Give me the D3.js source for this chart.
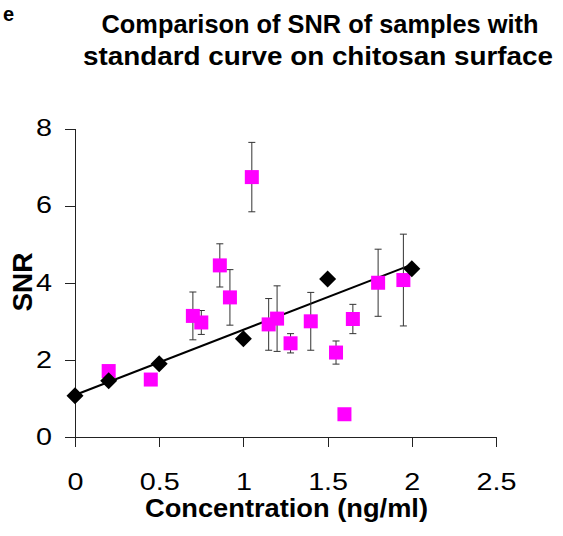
<!DOCTYPE html>
<html>
<head>
<meta charset="utf-8">
<script src="https://cdn.jsdelivr.net/npm/d3@7"></script>
<style>
  body { margin: 0; background: #fff; }
  svg { display: block; font-family: "Liberation Sans", Arial, sans-serif; }
  .axis path, .axis line { stroke: #222; shape-rendering: crispEdges; }
  .axis text { fill: #000; font-size: 23px; }
</style>
</head>
<body>
<svg width="563" height="536"></svg>
<script>
// standard curve (black diamonds)
var stdConc = [0, 0.2, 0.5, 1.0, 1.5, 2.0];
var stdSNR = [1.07, 1.46, 1.90, 2.55, 4.10, 4.36];

// trendline ends
var trendConc = [0, 2];
var trendSNR = [1.09, 4.47];

// samples (magenta squares) with error bars
var sampleConc = [0.2, 0.45, 0.7, 0.75, 0.86, 0.92, 1.05, 1.15, 1.2, 1.28, 1.4, 1.55, 1.6, 1.65, 1.8, 1.95];
var sampleSNR = [1.71, 1.49, 3.14, 2.97, 4.45, 3.62, 6.74, 2.92, 3.07, 2.43, 3.00, 2.19, 0.59, 3.06, 4.00, 4.07];
var sampleErr = [0, 0, 0.62, 0.31, 0.56, 0.72, 0.90, 0.67, 0.85, 0.25, 0.75, 0.30, 0, 0.38, 0.87, 1.19];

var xTicks = [0, 0.5, 1, 1.5, 2, 2.5];
var yTicks = [0, 2, 4, 6, 8];

var svg = d3.select("svg");
var margin = {"top":128.5,"right":67,"bottom":99,"left":75};
var width = +svg.attr("width") - margin.left - margin.right;
var height = +svg.attr("height") - margin.top - margin.bottom;
var g = svg.append("g").attr("transform","translate("+margin.left+","+margin.top+")");

var x = d3.scaleLinear().domain([0,2.5]).range([0,width]);
var y = d3.scaleLinear().domain([0,8]).range([height,0]);

var std = stdConc.map(function(c,i){return {x:c, y:stdSNR[i]};});
var trend = trendConc.map(function(c,i){return {x:c, y:trendSNR[i]};});
var samples = sampleConc.map(function(c,i){return {x:c, y:sampleSNR[i], e:sampleErr[i]};});

// the original picture is stretched sideways, so the texts are widened a bit
var stretch = 1.25;

// axes
var xAxis = g.append("g")
    .attr("class","axis")
    .attr("transform","translate(0,"+height+")")
    .call(d3.axisBottom(x).tickValues(xTicks).tickSize(10).tickSizeOuter(0).tickPadding(27)
        .tickFormat(function(d){return String(d);}));
xAxis.selectAll("text").attr("transform","scale("+stretch+",1)");

var yAxis = g.append("g")
    .attr("class","axis")
    .call(d3.axisLeft(y).tickValues(yTicks).tickSize(10).tickSizeOuter(0).tickPadding(13));
yAxis.selectAll("text").attr("x",-23/stretch).attr("transform","scale("+stretch+",1)");

// trendline
var line = d3.line().x(function(d){return x(d.x);}).y(function(d){return y(d.y);});
g.append("path")
    .datum(trend)
    .attr("d",line)
    .attr("fill","none")
    .attr("stroke","#000")
    .attr("stroke-width",2);

// error bars
var eb = g.selectAll(".err").data(samples.filter(function(d){return d.e>0;}))
    .enter().append("g").attr("class","err")
    .attr("stroke","#333").attr("stroke-width",1);
eb.append("line")
    .attr("x1",function(d){return x(d.x);}).attr("x2",function(d){return x(d.x);})
    .attr("y1",function(d){return y(d.y+d.e);}).attr("y2",function(d){return y(d.y-d.e);});
eb.append("line")
    .attr("x1",function(d){return x(d.x)-3.5;}).attr("x2",function(d){return x(d.x)+3.5;})
    .attr("y1",function(d){return y(d.y+d.e);}).attr("y2",function(d){return y(d.y+d.e);});
eb.append("line")
    .attr("x1",function(d){return x(d.x)-3.5;}).attr("x2",function(d){return x(d.x)+3.5;})
    .attr("y1",function(d){return y(d.y-d.e);}).attr("y2",function(d){return y(d.y-d.e);});

// sample squares
g.selectAll(".sq").data(samples).enter().append("rect")
    .attr("class","sq")
    .attr("x",function(d){return x(d.x)-7;})
    .attr("y",function(d){return y(d.y)-7;})
    .attr("width",14).attr("height",14)
    .attr("fill","#ff00ff");

// standard diamonds
g.selectAll(".dm").data(std).enter().append("path")
    .attr("class","dm")
    .attr("transform",function(d){return "translate("+x(d.x)+","+y(d.y)+")";})
    .attr("d","M0,-8.5L8.5,0L0,8.5L-8.5,0Z")
    .attr("fill","#000");

// titles
svg.append("text").attr("x",320).attr("y",33).attr("text-anchor","middle")
    .attr("font-weight","bold").attr("font-size",25)
    .attr("textLength",437).attr("lengthAdjust","spacingAndGlyphs")
    .text("Comparison of SNR of samples with");
svg.append("text").attr("x",318).attr("y",65).attr("text-anchor","middle")
    .attr("font-weight","bold").attr("font-size",25)
    .attr("textLength",470).attr("lengthAdjust","spacingAndGlyphs")
    .text("standard curve on chitosan surface");

svg.append("text").attr("x",286.5).attr("y",517).attr("text-anchor","middle")
    .attr("font-weight","bold").attr("font-size",26)
    .attr("textLength",283).attr("lengthAdjust","spacingAndGlyphs")
    .text("Concentration (ng/ml)");

svg.append("text").attr("transform","translate(32,282) rotate(-90)").attr("text-anchor","middle")
    .attr("font-weight","bold").attr("font-size",28)
    .text("SNR");

// panel letter in the top left corner
svg.append("text").attr("x",3).attr("y",21)
    .attr("font-weight","bold").attr("font-size",20)
    .text("e");
</script>
</body>
</html>
